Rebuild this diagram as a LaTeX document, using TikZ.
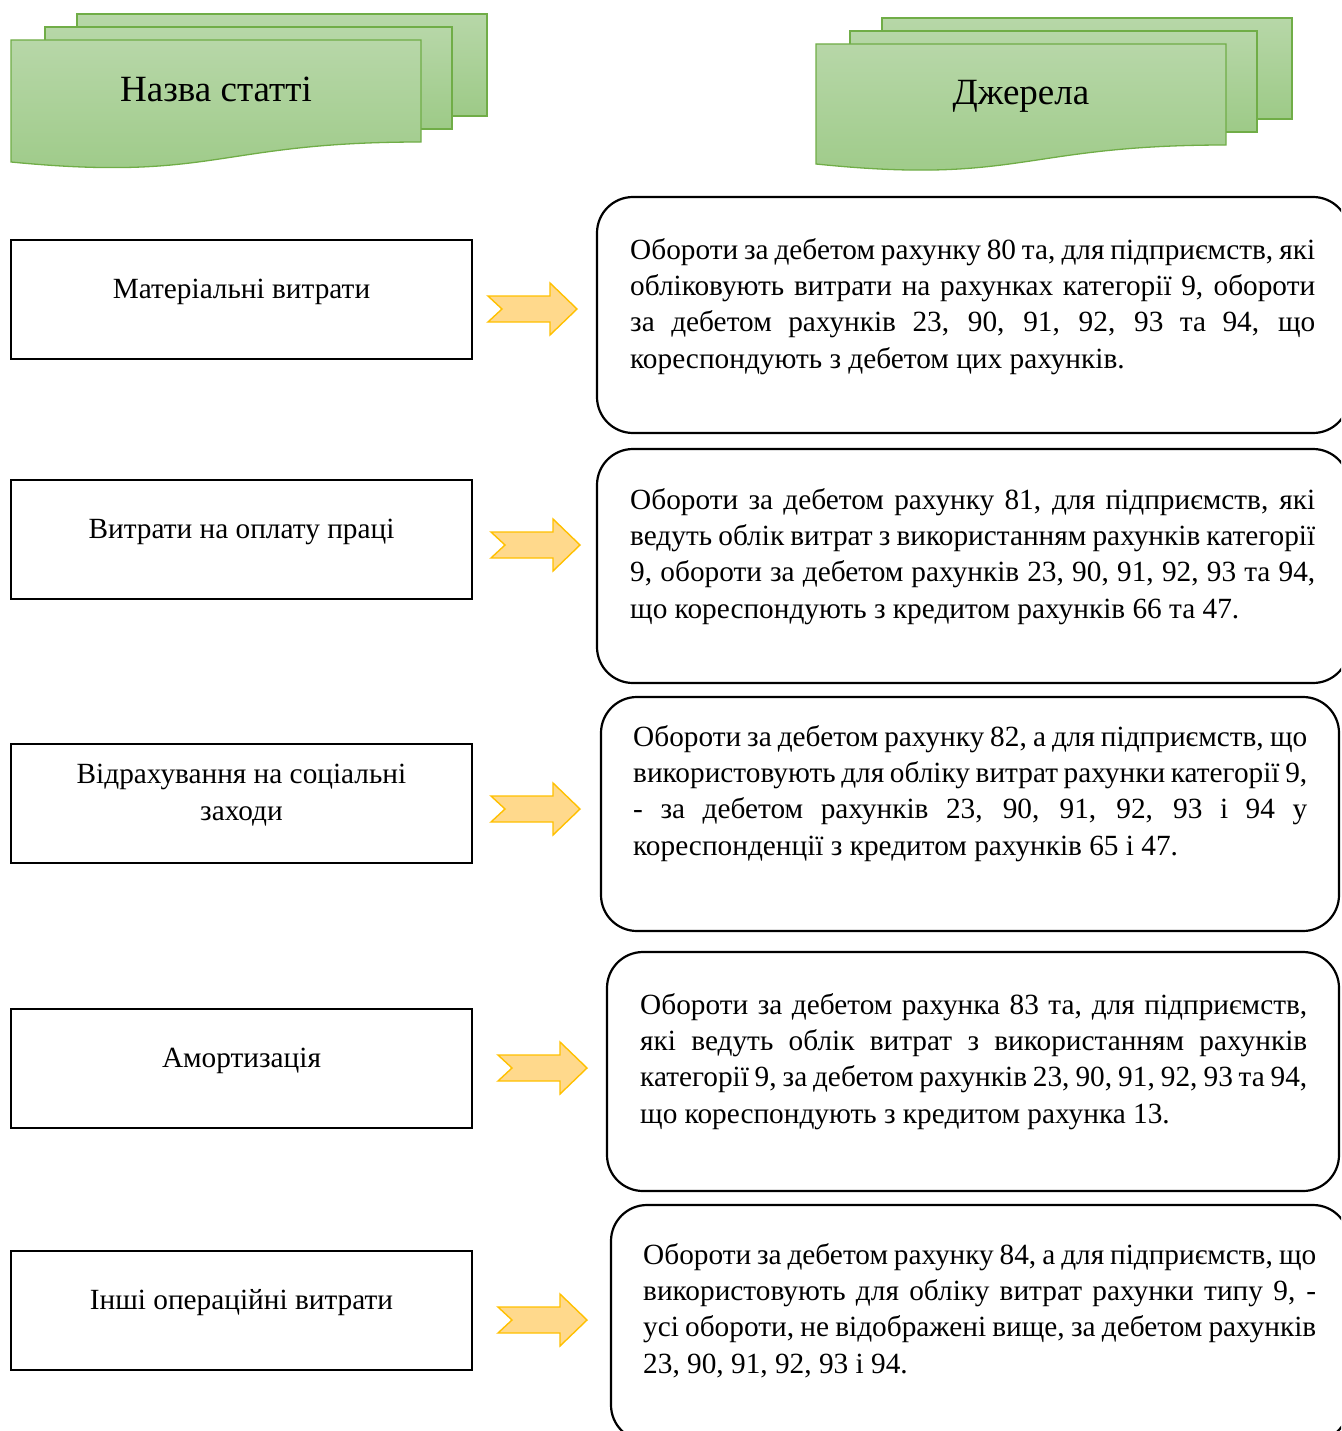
\documentclass[tikz,border=0pt]{standalone}
\usepackage{fontspec}
\setmainfont{Liberation Serif}
\definecolor{gborder}{HTML}{70AD47}
\definecolor{gtop}{HTML}{B7D7A8}
\definecolor{gbot}{HTML}{9DCA87}
\definecolor{afill}{HTML}{FFD98C}
\definecolor{aborder}{HTML}{FFC000}
\newcommand\jline[1]{\hbox to\hsize{\strut#1}}
\newcommand\lline[1]{\hbox{\strut#1}}
\tikzset{
 hdr/.style={draw=gborder, line width=1.3pt, top color=gtop, bottom color=gbot},
 hdrtext/.style={font=\fontsize{37}{44}\selectfont, anchor=base, inner sep=0pt},
 leftbox/.style={draw, line width=2pt, minimum width=461pt, minimum height=119pt, inner sep=0pt},
 lefttext/.style={font=\fontsize{29.3}{37}\selectfont, anchor=north, inner sep=0pt, align=center},
 rightbox/.style={draw, line width=2.2pt, rounded corners=36pt, inner sep=0pt},
 righttext/.style={font=\fontsize{29.3}{36.3}\selectfont, anchor=north west, inner sep=0pt},
 notcharrow/.pic={\path[draw=aborder, fill=afill, line width=1.4pt, line join=miter]
   (0,-13) -- (62,-13) -- (62,-26) -- (89,0) -- (62,26) -- (62,13) -- (0,13) -- (14,0) -- cycle;}
}
\begin{document}
\begin{tikzpicture}[x=1pt,y=-1pt]
\useasboundingbox (0,0) rectangle (1341,1431);
\clip (0,0) rectangle (1341,1431);
% header left
\path[hdr] (77,14) rectangle (487,116);
\path[hdr] (45,27) rectangle (452,129);
\path[hdr] (11,40) -- (421,40) -- (421,142) .. controls (216,142) and (216,182) .. (11,162) -- cycle;
\node[hdrtext] (h1) at (216,101.7) {Назва статті};
% header right
\path[hdr] (882,18) rectangle (1292,119);
\path[hdr] (850,31) rectangle (1257,132);
\path[hdr] (816,44) -- (1226,44) -- (1226,145) .. controls (1021,145) and (1021,185) .. (816,164) -- cycle;
\node[hdrtext] (h2) at (1021,105) {Джерела};
% left boxes
\node[leftbox] (l1) at (241.5,299.5) {};
\node[leftbox] (l2) at (241.5,539) {};
\node[leftbox] (l3) at (241.5,803) {};
\node[leftbox] (l4) at (241.5,1068) {};
\node[leftbox] (l5) at (241.5,1310) {};
\node[lefttext] (lt1) at (241.5,272.6) {\strut Матеріальні витрати};
\node[lefttext] (lt2) at (241.5,512.1) {\strut Витрати на оплату праці};
\node[lefttext] (lt3) at (241.5,757.6) {\strut Відрахування на соціальні\\\strut заходи};
\node[lefttext] (lt4) at (241.5,1041.1) {\strut Амортизація};
\node[lefttext] (lt5) at (241.5,1283.1) {\strut Інші операційні витрати};
% right boxes
\node[rightbox, minimum width=752pt, minimum height=236pt] (r1) at (973,315) {};
\node[rightbox, minimum width=752pt, minimum height=234pt] (r2) at (973,566) {};
\node[rightbox, minimum width=738pt, minimum height=234pt] (r3) at (970,814) {};
\node[rightbox, minimum width=732pt, minimum height=239pt] (r4) at (973,1071.5) {};
\node[rightbox, minimum width=738pt, minimum height=236pt] (r5) at (980,1323) {};
\node[righttext] (rt1) at (630,233.6) {\vbox{\hsize=685pt
 \jline{Обороти за дебетом рахунку 80 та, для підприємств, які}
 \jline{обліковують витрати на рахунках категорії 9, обороти}
 \jline{за дебетом рахунків 23, 90, 91, 92, 93 та 94, що}
 \lline{кореспондують з дебетом цих рахунків.}}};
\node[righttext] (rt2) at (630,483.6) {\vbox{\hsize=685pt
 \jline{Обороти за дебетом рахунку 81, для підприємств, які}
 \jline{ведуть облік витрат з використанням рахунків категорії}
 \jline{9, обороти за дебетом рахунків 23, 90, 91, 92, 93 та 94,}
 \lline{що кореспондують з кредитом рахунків 66 та 47.}}};
\node[righttext] (rt3) at (633,720.6) {\vbox{\hsize=674pt
 \jline{Обороти за дебетом рахунку 82, а для підприємств, що}
 \jline{використовують для обліку витрат рахунки категорії 9,}
 \jline{- за дебетом рахунків 23, 90, 91, 92, 93 і 94 у}
 \lline{кореспонденції з кредитом рахунків 65 і 47.}}};
\node[righttext] (rt4) at (640,988.6) {\vbox{\hsize=667pt
 \jline{Обороти за дебетом рахунка 83 та, для підприємств,}
 \jline{які ведуть облік витрат з використанням рахунків}
 \jline{категорії 9, за дебетом рахунків 23, 90, 91, 92, 93 та 94,}
 \lline{що кореспондують з кредитом рахунка 13.}}};
\node[righttext] (rt5) at (643,1238.6) {\vbox{\hsize=673pt
 \jline{Обороти за дебетом рахунку 84, а для підприємств, що}
 \jline{використовують для обліку витрат рахунки типу 9, -}
 \jline{усі обороти, не відображені вище, за дебетом рахунків}
 \lline{23, 90, 91, 92, 93 і 94.}}};
% arrows
\pic at (488,309) {notcharrow};
\pic at (491,545) {notcharrow};
\pic at (491,809) {notcharrow};
\pic at (498,1068) {notcharrow};
\pic at (498,1320) {notcharrow};
\end{tikzpicture}
\end{document}
